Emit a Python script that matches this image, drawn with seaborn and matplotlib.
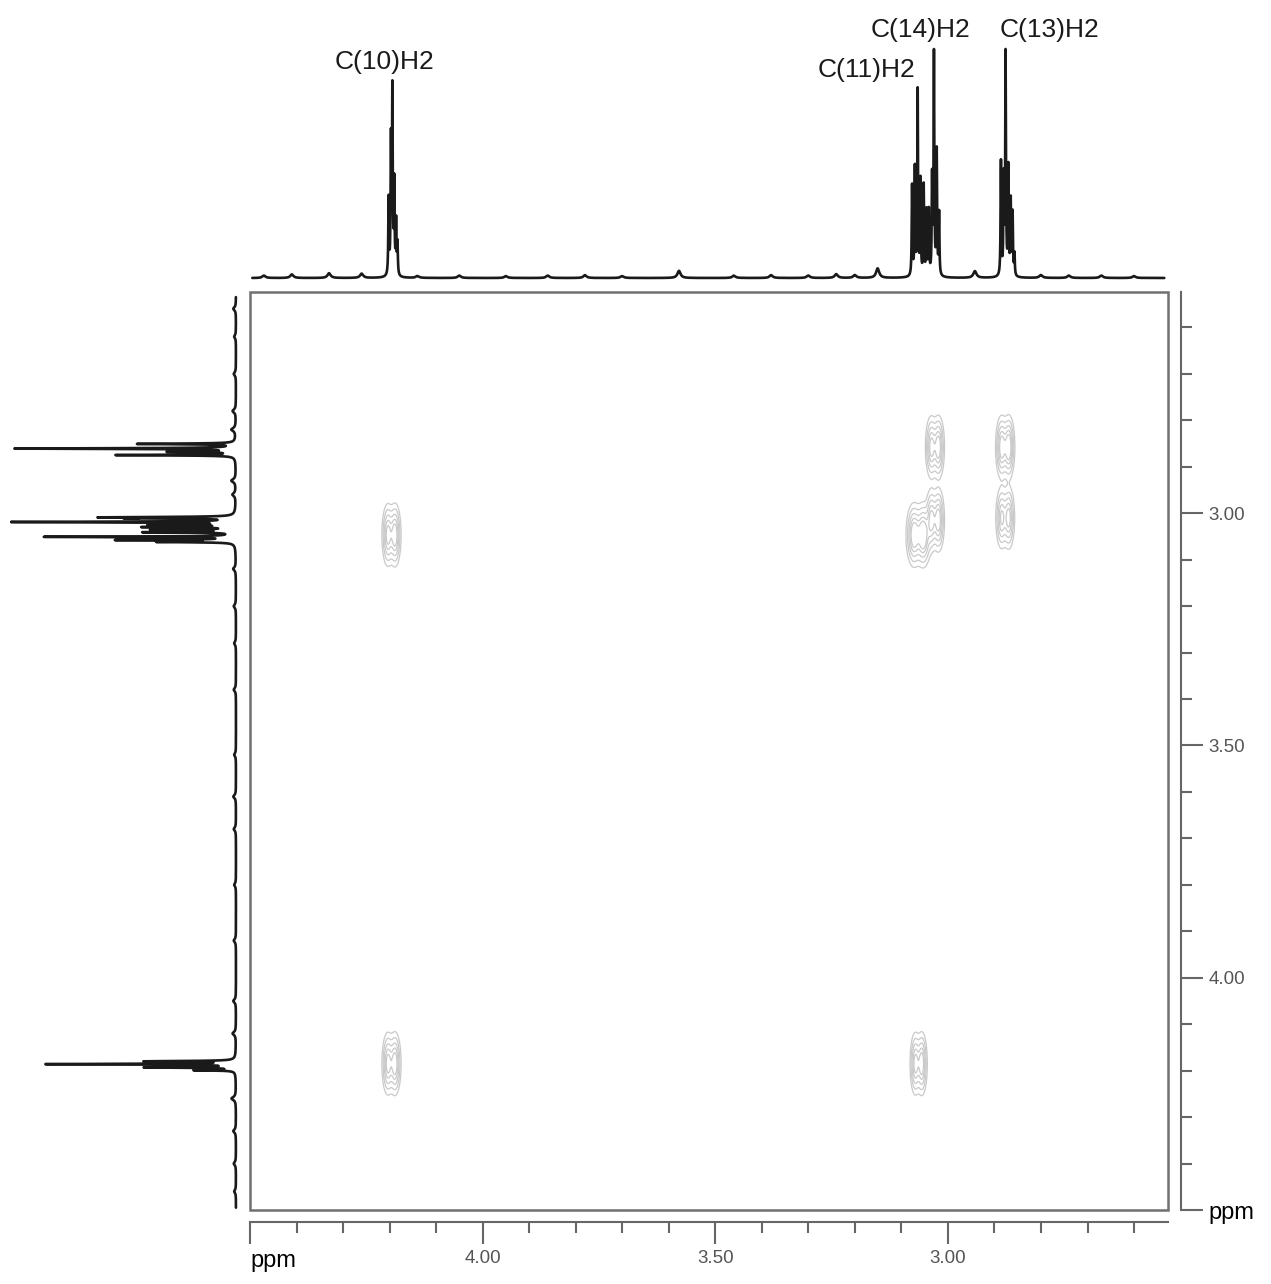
import numpy as np
import pandas as pd
import matplotlib
matplotlib.use("Agg")
import matplotlib.pyplot as plt
import seaborn as sns
from matplotlib.patches import Rectangle

# ------------------------------------------------------------------ data
x_major_ticks = [4.50, 4.00, 3.50, 3.00]
x_major_labels = ["ppm", "4.00", "3.50", "3.00"]
y_major_ticks = [3.00, 3.50, 4.00, 4.50]
y_major_labels = ["3.00", "3.50", "4.00", "ppm"]
minor_ticks = [4.4, 4.3, 4.2, 4.1, 3.9, 3.8, 3.7, 3.6, 3.4, 3.3, 3.2, 3.1,
               2.9, 2.8, 2.7, 2.6]

# 1D projection on top (F2): line positions (ppm) and heights (relative)
top_line_ppm = [4.202, 4.197, 4.194, 4.190, 4.186, 4.183,
                3.077, 3.071, 3.065, 3.059, 3.052, 3.046,
                3.041, 3.034, 3.030, 3.024, 3.019,
                2.886, 2.880, 2.876, 2.870, 2.865, 2.861, 2.857]
top_line_int = [0.32, 0.55, 0.76, 0.38, 0.22, 0.13,
                0.38, 0.45, 0.78, 0.40, 0.38, 0.27,
                0.27, 0.40, 0.93, 0.52, 0.26,
                0.48, 0.40, 0.93, 0.45, 0.31, 0.26, 0.09]
# small baseline features of the top trace
top_bump_ppm = [4.47, 4.41, 4.33, 4.26, 4.14, 4.05, 3.95, 3.86, 3.78, 3.70,
                3.578, 3.46, 3.38, 3.30, 3.24, 3.20, 3.151, 2.942, 2.80,
                2.74, 2.67, 2.60]
top_bump_int = [0.010, 0.015, 0.020, 0.018, 0.008, 0.010, 0.008, 0.010,
                0.012, 0.008, 0.030, 0.010, 0.012, 0.010, 0.016, 0.012,
                0.040, 0.028, 0.012, 0.010, 0.010, 0.008]

# 1D projection on the left (F1)
left_line_ppm = [2.851, 2.861, 2.868, 2.875,
                 3.009, 3.011, 3.019, 3.025, 3.030, 3.036, 3.041,
                 3.051, 3.058, 3.062,
                 4.180, 4.186, 4.193, 4.199]
left_line_int = [0.44, 1.00, 0.29, 0.54,
                 0.55, 0.40, 1.00, 0.36, 0.40, 0.36, 0.40,
                 0.86, 0.52, 0.33,
                 0.40, 0.85, 0.40, 0.18]
left_bump_ppm = [2.56, 2.62, 2.70, 2.78, 2.82, 2.93, 2.96, 3.12, 3.20,
                 3.28, 3.38, 3.52, 3.61, 3.68, 3.80, 3.92, 4.05, 4.12,
                 4.26, 4.33, 4.40, 4.46]
left_bump_int = [0.012, 0.008, 0.010, 0.015, 0.020, 0.020, 0.015, 0.012,
                 0.010, 0.008, 0.010, 0.008, 0.012, 0.010, 0.008, 0.010,
                 0.012, 0.015, 0.020, 0.012, 0.010, 0.008]

# 2D cross peaks (F2 ppm, F1 ppm, relative intensity, relative width)
cross_x = [4.196, 4.196, 3.063, 3.028, 3.028, 2.877, 2.877, 3.063]
cross_y = [3.047, 4.185, 3.047, 3.015, 2.858, 2.858, 3.010, 4.185]
cross_int = [1.0, 1.0, 1.2, 1.0, 1.0, 1.1, 0.9, 1.0]
cross_wid = [1.0, 1.0, 1.3, 1.0, 1.0, 1.0, 1.0, 0.9]

label_text = ["C(10)H2", "C(11)H2", "C(14)H2", "C(13)H2"]
label_ppm = [4.211, 3.176, 3.060, 2.781]
label_level = [0.908, 0.874, 1.042, 1.042]

# ------------------------------------------------------------------ style
sns.set_style("white")
plt.rcParams["font.family"] = ["Liberation Sans", "DejaVu Sans"]

W, H = 1271, 1284
fig = plt.figure(figsize=(W / 100, H / 100), dpi=100)

X_LIM = (4.50, 2.527)
Y_LIM = (4.50, 2.524)

def lorentz(grid, pos, height, hw):
    out = np.zeros_like(grid)
    for p, h in zip(pos, height):
        out += h * hw ** 2 / ((grid - p) ** 2 + hw ** 2)
    return out

# ------------------------------------------------------------------ main 2D panel
ax = fig.add_axes([250 / W, 1 - 1210 / H, 918 / W, 918 / H])
ax.set_xlim(*X_LIM)
ax.set_ylim(*Y_LIM)

gx = np.linspace(2.527, 4.50, 1400)
gy = np.linspace(2.524, 4.50, 1400)
GX, GY = np.meshgrid(gx, gy)
Z = np.zeros_like(GX)
sx, sy, d = 0.0055, 0.026, 0.0075
for cx, cy, ci, cw in zip(cross_x, cross_y, cross_int, cross_wid):
    for off, fac in ((-d * cw, 1.0), (d * cw, 0.9)):
        for yoff, yfac in ((-0.012, 0.8), (0.012, 0.8)):
            Z += ci * fac * yfac * np.exp(
                -((GX - cx - off) ** 2 / (2 * (sx * cw) ** 2)
                  + (GY - cy - yoff) ** 2 / (2 * sy ** 2)))
ax.contour(GX, GY, Z, levels=[0.08, 0.22, 0.45, 0.75, 1.05],
           colors="#cacaca", linewidths=0.9)

ax.add_patch(Rectangle((0, 0), 1, 1, transform=ax.transAxes, fill=False,
                       edgecolor="#707070", linewidth=1.8, clip_on=False,
                       zorder=5))
for s in ("top", "left"):
    ax.spines[s].set_visible(False)
for s in ("bottom", "right"):
    ax.spines[s].set_color("#666666")
    ax.spines[s].set_linewidth(1.5)
ax.spines["bottom"].set_position(("outward", 8.6))
ax.spines["right"].set_position(("outward", 9.4))
ax.yaxis.tick_right()

ax.set_xticks(x_major_ticks)
xl = ax.set_xticklabels(x_major_labels)
ax.set_xticks(minor_ticks, minor=True)
ax.set_yticks(y_major_ticks)
yl = ax.set_yticklabels(y_major_labels)
ax.set_yticks(minor_ticks, minor=True)
ax.tick_params(which="major", direction="out", length=16, width=1.5,
               color="#666666", labelsize=13.5, labelcolor="#555555", pad=4)
ax.tick_params(which="minor", direction="out", length=8, width=1.5,
               color="#666666")
ax.tick_params(axis="x", which="both", bottom=True, top=False)
ax.tick_params(axis="y", which="both", right=True, left=False)
for t in list(xl) + list(yl):
    if t.get_text() == "ppm":
        t.set_fontsize(17)
        t.set_color("black")
for t in xl:
    if t.get_text() == "ppm":
        t.set_horizontalalignment("left")
ax.set_xlabel("")
ax.set_ylabel("")
ax.grid(False)

# ------------------------------------------------------------------ top projection
ax_top = fig.add_axes([250 / W, 1 - 282 / H, 918 / W, 242 / H])
xs = np.linspace(2.535, 4.495, 14000)
top_sig = lorentz(xs, top_line_ppm, top_line_int, 0.0009)
top_sig += lorentz(xs, top_bump_ppm, top_bump_int, 0.004)
top_df = pd.DataFrame({"ppm": xs, "intensity": top_sig})
sns.lineplot(data=top_df, x="ppm", y="intensity", ax=ax_top, color="#1a1a1a",
             linewidth=1.9, sort=False, estimator=None)
ax_top.set_xlim(*X_LIM)
ax_top.set_ylim(-0.0168, 1.0)
ax_top.axis("off")
for txt, p, lv in zip(label_text, label_ppm, label_level):
    ax_top.text(p, lv, txt, ha="center", va="center", fontsize=19,
                color="#1a1a1a", clip_on=False)

# ------------------------------------------------------------------ left projection
ax_left = fig.add_axes([10 / W, 1 - 1210 / H, 235 / W, 918 / H])
ys = np.linspace(2.535, 4.495, 14000)
left_sig = lorentz(ys, left_line_ppm, left_line_int, 0.0009)
left_sig += lorentz(ys, left_bump_ppm, left_bump_int, 0.004)
left_df = pd.DataFrame({"ppm": ys, "intensity": left_sig})
sns.lineplot(data=left_df, x="intensity", y="ppm", ax=ax_left, color="#1a1a1a",
             linewidth=1.9, sort=False, estimator=None, orient="y")
ax_left.set_ylim(*Y_LIM)
ax_left.set_xlim(1.027, -0.041)
ax_left.axis("off")

fig.savefig("out.png", dpi=100)
